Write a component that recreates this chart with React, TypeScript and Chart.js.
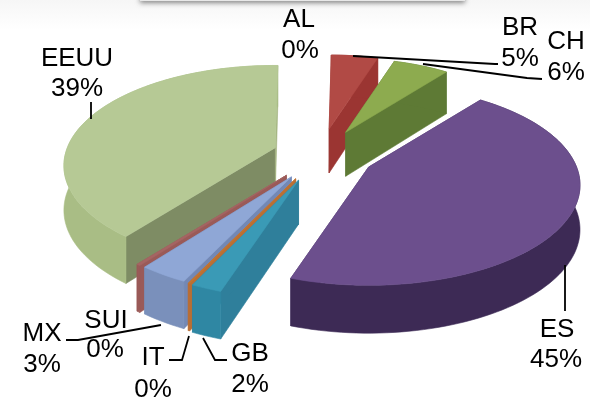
import React, { useEffect, useRef } from "react";
import { Chart, registerables } from "chart.js";

Chart.register(...registerables);

const categories = ["AL", "BR", "CH", "ES", "GB", "IT", "MX", "SUI", "EEUU"];
const shares = [0, 4.7, 5.6, 44.5, 2, 0.1, 3.2, 0.25, 39.65];
const percentLabels = ["0%", "5%", "6%", "45%", "2%", "0%", "3%", "0%", "39%"];
const explodeOffsets = [36, 37, 36, 36, 38, 37, 36, 36, 31];
const rimScales = [1, 0.9, 0.9, 1, 1, 1, 1, 1, 1];

const topColors = ["#4f81bd", "#b14a45", "#8dab4f", "#6c4f8d", "#3a9ab6", "#c5762f", "#8fa7d6", "#a56563", "#b6c995"];
const arcWallColors = ["#4f81bd", "#9b3532", "#5e7a35", "#3d2a55", "#2f87a3", "#b96f35", "#7a90bb", "#9a5a58", "#a9bd85"];
const startWallColors = ["#4f81bd", "#9b3532", "#5e7a35", "#4a3568", "#2f7f9b", "#b96f35", "#7388b5", "#9a5a58", "#7e8c64"];
const endWallColors = ["#4f81bd", "#9b3532", "#5e7a35", "#4a3568", "#2f7f9b", "#b96f35", "#7388b5", "#9a5a58", "#a3b37f"];

const drawOrder = ["EEUU", "SUI", "MX", "IT", "GB", "BR", "CH", "ES"];

// label anchor: centre x, first baseline, second baseline, second centre x
const labelAnchors: Record<string, number[]> = {
  AL: [299, 27, 58, 300],
  BR: [520, 35, 66, 520],
  CH: [566, 49, 80, 566],
  ES: [557, 337, 367, 556],
  GB: [250, 361, 392, 250],
  IT: [153, 365, 397, 153],
  MX: [42, 341, 372, 42],
  SUI: [106, 328, 357, 105],
  EEUU: [77, 66, 96, 77],
};

const leaderLines: number[][][] = [
  [[91, 102], [91, 119]],
  [[353, 56], [495, 64], [498, 64]],
  [[423, 64], [527, 78], [542, 79]],
  [[565, 265], [565, 311]],
  [[203, 338], [215, 360], [227, 360]],
  [[189, 336], [182, 360], [169, 360]],
  [[161, 325], [78, 340], [66, 340]],
];

const STRETCH_X = 1.529;
const SQUASH_Y = 0.713;
const PERSPECTIVE = 0.18;
const DEPTH = 44;
const DEPTH_PERSPECTIVE = 0.4;

const pie3d = {
  id: "pie3d",
  beforeDraw(chart: any) {
    const ctx = chart.ctx;
    ctx.save();
    const g = ctx.createLinearGradient(0, 0, 0, 30);
    g.addColorStop(0, "#f6f6f6");
    g.addColorStop(1, "#ffffff");
    ctx.fillStyle = g;
    ctx.fillRect(0, 0, 590, 30);
    ctx.shadowColor = "rgba(0,0,0,0.45)";
    ctx.shadowBlur = 5;
    ctx.shadowOffsetY = 2;
    ctx.fillStyle = "#e8e8e8";
    ctx.fillRect(140, -6, 325, 7);
    ctx.restore();
  },
  beforeDatasetDraw(chart: any) {
    const ctx = chart.ctx;
    const arcs = chart.getDatasetMeta(0).data;
    const fillPoly = (pts: number[][], color: string) => {
      ctx.beginPath();
      pts.forEach((p, i) => (i ? ctx.lineTo(p[0], p[1]) : ctx.moveTo(p[0], p[1])));
      ctx.closePath();
      ctx.fillStyle = color;
      ctx.strokeStyle = color;
      ctx.lineWidth = 0.6;
      ctx.fill();
      ctx.stroke();
    };
    drawOrder.forEach((name) => {
      const i = categories.indexOf(name);
      const el = arcs[i];
      if (!el || shares[i] <= 0) return;
      const { x, y, startAngle, endAngle, outerRadius } = el;
      const a = outerRadius * STRETCH_X;
      const b = outerRadius * SQUASH_Y;
      const d = (el.options.offset || 0) / outerRadius;
      const mid = (startAngle + endAngle) / 2;
      const ax = x + a * d * Math.cos(mid);
      const ay = y + b * d * Math.sin(mid);
      const rim = (t: number) => {
        const s = 1 / (1 - PERSPECTIVE * Math.sin(t));
        const r = rimScales[i];
        return [ax + a * r * Math.cos(t) * s, ay + b * r * Math.sin(t) * s, s];
      };
      const steps = Math.max(4, Math.ceil((endAngle - startAngle) / 0.03));
      const outline: number[][] = [];
      for (let k = 0; k <= steps; k++) outline.push(rim(startAngle + ((endAngle - startAngle) * k) / steps));
      const down = (p: number[]) => [p[0], p[1] + DEPTH * (1 + (p[2] - 1) * DEPTH_PERSPECTIVE)];
      const apex = [ax, ay, 1];
      const first = outline[0];
      const last = outline[outline.length - 1];
      fillPoly([apex, first, down(first), down(apex)], startWallColors[i]);
      fillPoly([apex, last, down(last), down(apex)], endWallColors[i]);
      fillPoly([...outline, ...outline.map(down).reverse()], arcWallColors[i]);
      fillPoly([apex, ...outline], topColors[i]);
    });
    return false;
  },
  afterDraw(chart: any) {
    const ctx = chart.ctx;
    ctx.save();
    ctx.strokeStyle = "#000000";
    ctx.lineWidth = 1.8;
    leaderLines.forEach((line) => {
      ctx.beginPath();
      line.forEach((p, i) => (i ? ctx.lineTo(p[0], p[1]) : ctx.moveTo(p[0], p[1])));
      ctx.stroke();
    });
    ctx.fillStyle = "#000000";
    ctx.font = '26px "Liberation Sans", Arial, sans-serif';
    ctx.textAlign = "center";
    ctx.textBaseline = "alphabetic";
    categories.forEach((name, i) => {
      const [cx, y1, y2, cx2] = labelAnchors[name];
      ctx.fillText(name, cx, y1);
      ctx.fillText(percentLabels[i], cx2, y2);
    });
    ctx.restore();
  },
};

export default function App() {
  const ref = useRef<HTMLCanvasElement>(null);
  useEffect(() => {
    if (!ref.current) return;
    const chart = new Chart(ref.current, {
      type: "pie",
      data: {
        labels: categories,
        datasets: [
          {
            data: shares,
            backgroundColor: topColors,
            borderWidth: 0,
            offset: explodeOffsets,
          },
        ],
      },
      options: {
        animation: false,
        responsive: true,
        maintainAspectRatio: false,
        rotation: 0.8,
        layout: { padding: { left: 50, bottom: 89 } },
        plugins: { legend: { display: false }, tooltip: { enabled: false }, title: { display: false } },
      },
      plugins: [pie3d],
    } as any);
    return () => chart.destroy();
  }, []);
  return (
    <div style={{ position: "absolute", left: 0, top: 0, width: 590, height: 399, background: "#ffffff" }}>
      <canvas ref={ref} style={{ filter: "blur(0.4px)" }} />
    </div>
  );
}
